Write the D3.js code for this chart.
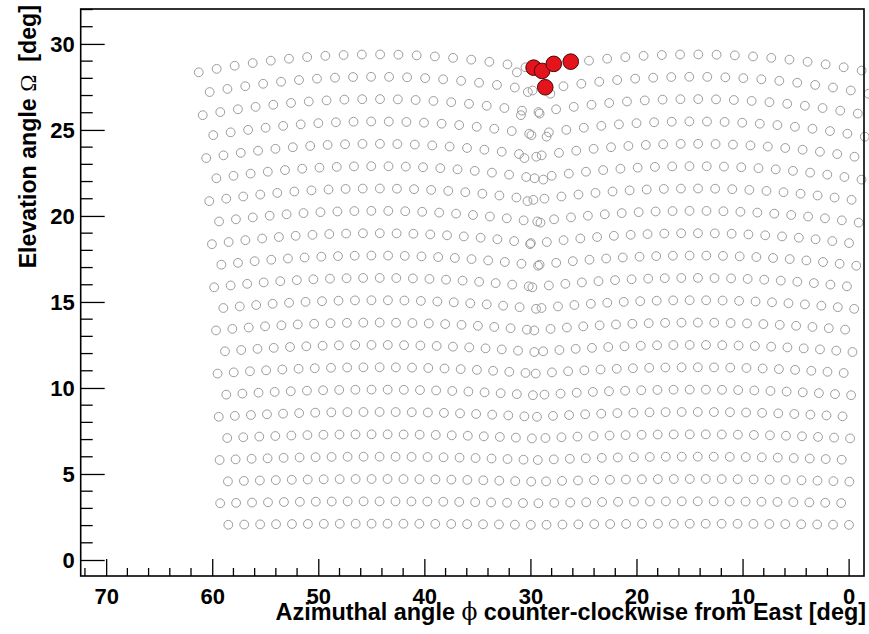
<!DOCTYPE html>
<html>
<head>
<meta charset="utf-8">
<script src="https://cdn.jsdelivr.net/npm/d3@7"></script>
<style>
  html, body { margin: 0; padding: 0; background: #fff; }
  svg { display: block; }
</style>
</head>
<body>
<svg id="chart" width="869" height="634"></svg>
<script>
// Fluorescence-detector cameras: two telescopes, hexagonal pixel layout
const cameraCentreAzimuth = [14.6, 44.6];   // deg, optical axis of each telescope
const cameraCentreElevation = 15.75;        // deg
const pixelPitch = 1.5;                     // deg, column spacing
const pixelRows = 22;
const pixelColumns = 20;

// Pixels triggered by the event
const hitAzimuth   = [29.7, 28.9, 28.6, 27.8, 26.2];
const hitElevation = [28.62, 28.43, 27.48, 28.84, 28.97];

// Axis ticks
const xMajorTicks = [70, 60, 50, 40, 30, 20, 10, 0];
const yMajorTicks = [0, 5, 10, 15, 20, 25, 30];

const rad = Math.PI / 180;
const svg = d3.select("#chart");
const sans = "Liberation Sans, Arial, Helvetica, sans-serif";

const frame = { left: 80.7, right: 864, top: 9, bottom: 576 };
const x = d3.scaleLinear().domain([72.4, -1.45]).range([frame.left, frame.right]);
const y = d3.scaleLinear().domain([-0.93, 32.03]).range([frame.bottom, frame.top]);

// Pixel directions: row/column offsets on the camera, rotated to the sky
const rowStep = pixelPitch * Math.sqrt(3) / 2;
const pixels = [];
cameraCentreAzimuth.forEach(az0 => {
  d3.range(pixelRows).forEach(k => {
    const w = (cameraCentreElevation + (k - (pixelRows - 1) / 2) * rowStep) * rad;
    const shift = (k % 2 === 0 ? 0.25 : -0.25) * pixelPitch;
    d3.range(pixelColumns).forEach(j => {
      const u = ((j - (pixelColumns - 1) / 2) * pixelPitch + shift) * rad;
      const el = Math.asin(Math.cos(u) * Math.sin(w)) / rad;
      const az = az0 - Math.atan2(Math.tan(u), Math.cos(w)) / rad;
      pixels.push({ az, el });
    });
  });
});

svg.append("g").selectAll("circle").data(pixels).join("circle")
  .attr("cx", d => x(d.az)).attr("cy", d => y(d.el)).attr("r", 4.4)
  .attr("fill", "none").attr("stroke", "#9c9c9c").attr("stroke-width", 1);

const hits = hitAzimuth.map((a, i) => ({ az: a, el: hitElevation[i] }));
svg.append("g").selectAll("circle").data(hits).join("circle")
  .attr("cx", d => x(d.az)).attr("cy", d => y(d.el)).attr("r", 7.8)
  .attr("fill", "#e3141b").attr("stroke", "#4a0606").attr("stroke-width", 1);

// Frame
svg.append("rect")
  .attr("x", frame.left).attr("y", frame.top)
  .attr("width", frame.right - frame.left).attr("height", frame.bottom - frame.top)
  .attr("fill", "none").attr("stroke", "#000").attr("stroke-width", 1.6);

// X axis: ticks drawn upward from the bottom edge
const xMinor = d3.range(72, -1.45, -2).filter(v => v % 10 !== 0);
const xAxis = svg.append("g").attr("transform", `translate(0,${frame.bottom})`);
xAxis.call(d3.axisBottom(x).tickValues(xMajorTicks).tickSize(-17).tickPadding(0).tickFormat(d3.format("d")))
  .call(g => g.select(".domain").remove())
  .call(g => g.selectAll(".tick line").attr("stroke-width", 1.3))
  .call(g => g.selectAll(".tick text").attr("y", 28).attr("dy", 0)
    .attr("font-family", sans).attr("font-weight", "bold")
    .attr("font-size", 22).attr("fill", "#000"));
xAxis.selectAll(".minor").data(xMinor).join("line").attr("class", "minor")
  .attr("x1", d => x(d)).attr("x2", d => x(d)).attr("y1", 0).attr("y2", -8)
  .attr("stroke", "#000").attr("stroke-width", 1.3);

// Y axis: ticks drawn rightward from the left edge
const yMinor = d3.range(0, 32.03, 1).filter(v => v % 5 !== 0);
const yAxis = svg.append("g").attr("transform", `translate(${frame.left},0)`);
yAxis.call(d3.axisLeft(y).tickValues(yMajorTicks).tickSize(-24).tickPadding(0).tickFormat(d3.format("d")))
  .call(g => g.select(".domain").remove())
  .call(g => g.selectAll(".tick line").attr("stroke-width", 1.3))
  .call(g => g.selectAll(".tick text").attr("x", -6).attr("dy", "0.36em")
    .attr("font-family", sans).attr("font-weight", "bold")
    .attr("font-size", 22).attr("fill", "#000"));
yAxis.selectAll(".minor").data(yMinor).join("line").attr("class", "minor")
  .attr("y1", d => y(d)).attr("y2", d => y(d)).attr("x1", 0).attr("x2", 12)
  .attr("stroke", "#000").attr("stroke-width", 1.3);

// Axis titles
const xTitle = svg.append("text")
  .attr("x", 866).attr("y", 620).attr("text-anchor", "end")
  .attr("font-family", sans).attr("font-weight", "bold")
  .attr("font-size", 23.4).attr("fill", "#000");
xTitle.append("tspan").text("Azimuthal angle ");
xTitle.append("tspan").attr("font-family", "DejaVu Serif, serif").attr("font-weight", "normal").text("ϕ");
xTitle.append("tspan").text(" counter-clockwise from East [deg]");

const yTitle = svg.append("text")
  .attr("transform", "translate(36,5) rotate(-90)").attr("text-anchor", "end")
  .attr("font-family", sans).attr("font-weight", "bold")
  .attr("font-size", 23.2).attr("fill", "#000");
yTitle.append("tspan").text("Elevation angle ");
yTitle.append("tspan").attr("font-family", "Liberation Serif, serif").attr("font-weight", "normal").text("Ω");
yTitle.append("tspan").attr("xml:space", "preserve").text("  [deg]");
</script>
</body>
</html>
